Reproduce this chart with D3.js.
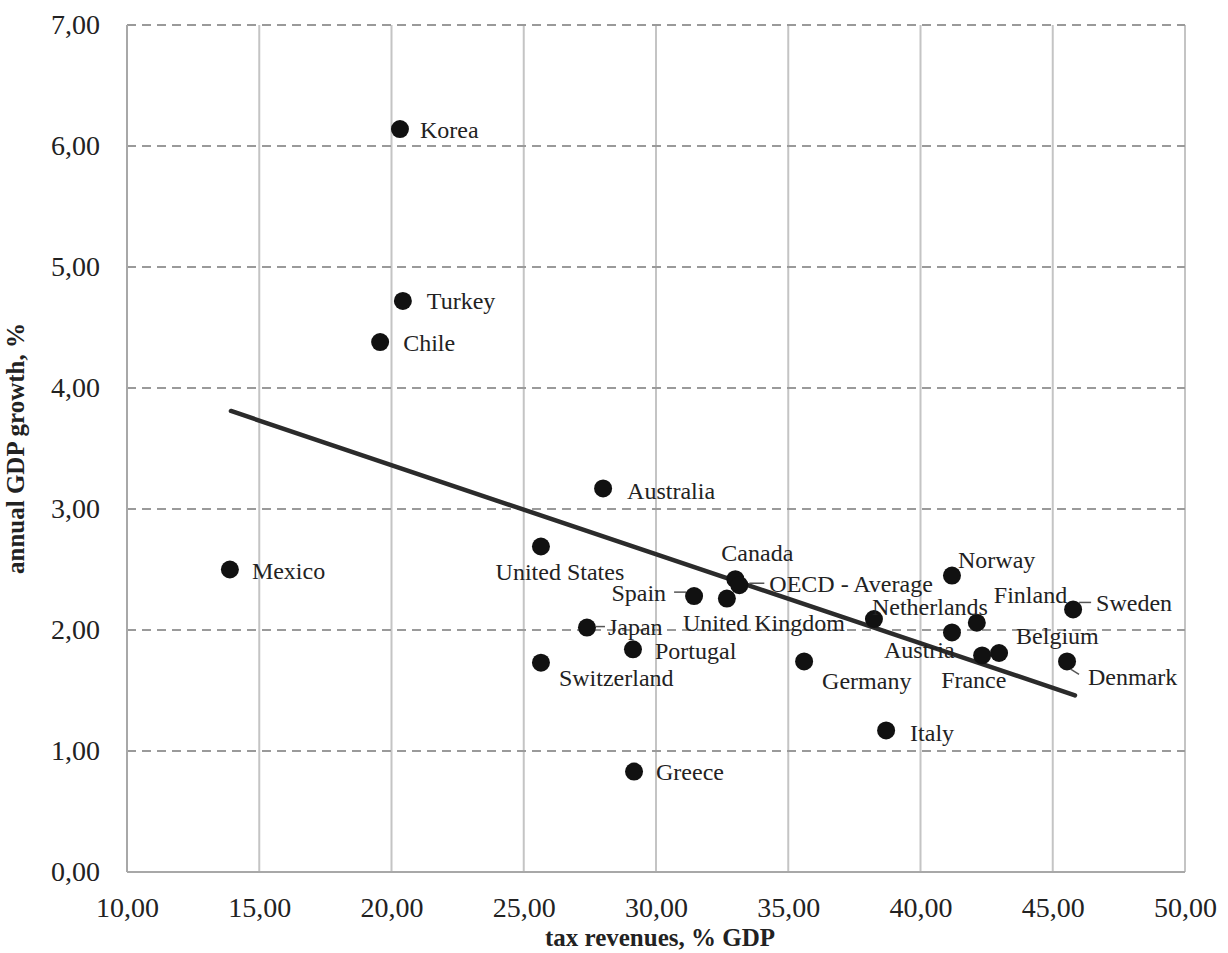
<!DOCTYPE html>
<html>
<head>
<meta charset="utf-8">
<script src="https://cdn.jsdelivr.net/npm/d3@7/dist/d3.min.js"></script>
<style>
  html, body { margin: 0; padding: 0; background: #ffffff; }
  svg { display: block; }
  text { font-family: "Liberation Serif", "Times New Roman", serif; fill: #222; }
</style>
</head>
<body>
<svg id="chart" width="1228" height="953"></svg>
<script>
// ---- data ----
const countries = ["Korea","Turkey","Chile","Mexico","Australia","United States","Spain","Canada","OECD - Average","United Kingdom","Japan","Portugal","Switzerland","Greece","Germany","Italy","Netherlands","Norway","Finland","Sweden","Belgium","Austria","France","Denmark"];
const taxRevenue = [20.32, 20.43, 19.57, 13.89, 28.00, 25.65, 31.44, 33.00, 33.15, 32.68, 27.39, 29.13, 25.65, 29.17, 35.60, 38.70, 38.24, 41.19, 42.13, 45.77, 42.97, 41.19, 42.33, 45.54];
const gdpGrowth  = [6.14, 4.72, 4.38, 2.50, 3.17, 2.69, 2.28, 2.42, 2.37, 2.26, 2.02, 1.84, 1.73, 0.83, 1.74, 1.17, 2.09, 2.45, 2.06, 2.17, 1.81, 1.98, 1.79, 1.74];
const trendX = [13.93, 45.84];
const trendY = [3.81, 1.46];
const xTicks = [10, 15, 20, 25, 30, 35, 40, 45, 50];
const yTicks = [0, 1, 2, 3, 4, 5, 6, 7];
const xTitle = "tax revenues, % GDP";
const yTitle = "annual GDP growth, %";

// ---- label layout (dx, dy to text centre, anchor, optional leader) ----
const labelLayout = {
  "Korea":          {dx: 20, dy: 1, a: "start"},
  "Turkey":         {dx: 24, dy: 0, a: "start"},
  "Chile":          {dx: 23, dy: 1, a: "start"},
  "Mexico":         {dx: 22, dy: 1, a: "start"},
  "Australia":      {dx: 24, dy: 2, a: "start"},
  "United States":  {dx: 19, dy: 25, a: "middle"},
  "Spain":          {dx: -28, dy: -4, a: "end", lead: [-20, -4, -8, -4]},
  "Canada":         {dx: 22, dy: -27, a: "middle"},
  "OECD - Average": {dx: 30, dy: -2, a: "start", lead: [10, -2, 25, -2]},
  "United Kingdom": {dx: -44, dy: 24, a: "start"},
  "Japan":          {dx: 21, dy: -1, a: "start", lead: [9, -1, 18, -1]},
  "Portugal":       {dx: 22, dy: 1, a: "start"},
  "Switzerland":    {dx: 18, dy: 15, a: "start"},
  "Greece":         {dx: 22, dy: 0, a: "start"},
  "Germany":        {dx: 18, dy: 19, a: "start"},
  "Italy":          {dx: 24, dy: 2, a: "start"},
  "Netherlands":    {dx: -2, dy: -13, a: "start"},
  "Norway":         {dx: 6, dy: -16, a: "start"},
  "Finland":        {dx: 17, dy: -28, a: "start"},
  "Sweden":         {dx: 23, dy: -7, a: "start", lead: [6, -7, 18, -7]},
  "Belgium":        {dx: 17, dy: -17, a: "start"},
  "Austria":        {dx: -68, dy: 17, a: "start"},
  "France":         {dx: -41, dy: 24, a: "start"},
  "Denmark":        {dx: 21, dy: 15, a: "start", lead: [4, 8, 12, 13]}
};

// ---- setup ----
const W = 1228, H = 953;
const margin = {top: 25, right: 43, bottom: 81, left: 127};
const FONT = '"Liberation Serif", "Times New Roman", serif';
const svg = d3.select("#chart");
const iw = W - margin.left - margin.right;
const ih = H - margin.top - margin.bottom;
const g = svg.append("g").attr("transform", `translate(${margin.left},${margin.top})`);

const x = d3.scaleLinear().domain([10, 50]).range([0, iw]);
const y = d3.scaleLinear().domain([0, 7]).range([ih, 0]);
const fmt = v => d3.format(".2f")(v).replace(".", ",");

// vertical gridlines (solid)
g.selectAll("line.vgrid").data(xTicks).join("line")
  .attr("class", "vgrid")
  .attr("x1", d => x(d)).attr("x2", d => x(d))
  .attr("y1", 0).attr("y2", ih)
  .attr("stroke", "#c4c4c4").attr("stroke-width", 2);

// horizontal gridlines (dashed)
g.selectAll("line.hgrid").data(yTicks.filter(d => d > 0)).join("line")
  .attr("class", "hgrid")
  .attr("x1", 0).attr("x2", iw)
  .attr("y1", d => y(d)).attr("y2", d => y(d))
  .attr("stroke", "#9a9a9a").attr("stroke-width", 2)
  .attr("stroke-dasharray", "9,6");

// axis lines
g.append("line").attr("x1", 0).attr("x2", iw).attr("y1", ih).attr("y2", ih)
  .attr("stroke", "#a8a8a8").attr("stroke-width", 2);
g.append("line").attr("x1", 0).attr("x2", 0).attr("y1", 0).attr("y2", ih)
  .attr("stroke", "#a8a8a8").attr("stroke-width", 2);

// axes (labels only)
const xAxis = g.append("g").attr("transform", `translate(0,${ih})`)
  .call(d3.axisBottom(x).tickValues(xTicks).tickFormat(fmt).tickSize(0).tickPadding(25));
const yAxis = g.append("g")
  .call(d3.axisLeft(y).tickValues(yTicks).tickFormat(fmt).tickSize(0).tickPadding(27));
[xAxis, yAxis].forEach(ax => {
  ax.attr("font-family", FONT);
  ax.select(".domain").remove();
  ax.selectAll("text").attr("font-family", FONT).style("font-family", FONT)
    .style("font-size", "28px").attr("fill", "#222");
});

// trend line
const trend = trendX.map((v, i) => [v, trendY[i]]);
g.append("path").datum(trend)
  .attr("d", d3.line().x(d => x(d[0])).y(d => y(d[1])))
  .attr("stroke", "#2b2b2b").attr("stroke-width", 4.5).attr("fill", "none")
  .attr("stroke-linecap", "round");

// points
const pts = countries.map((c, i) => ({name: c, tx: taxRevenue[i], gy: gdpGrowth[i]}));
g.selectAll("circle.pt").data(pts).join("circle")
  .attr("class", "pt")
  .attr("cx", d => x(d.tx)).attr("cy", d => y(d.gy)).attr("r", 9)
  .attr("fill", "#111");

// leaders
pts.filter(d => labelLayout[d.name].lead).forEach(d => {
  const L = labelLayout[d.name].lead;
  g.append("line")
    .attr("x1", x(d.tx) + L[0]).attr("y1", y(d.gy) + L[1])
    .attr("x2", x(d.tx) + L[2]).attr("y2", y(d.gy) + L[3])
    .attr("stroke", "#555").attr("stroke-width", 1.5);
});

// labels
g.selectAll("text.lbl").data(pts).join("text")
  .attr("class", "lbl")
  .attr("x", d => x(d.tx) + labelLayout[d.name].dx)
  .attr("y", d => y(d.gy) + labelLayout[d.name].dy)
  .attr("dy", "0.35em")
  .attr("text-anchor", d => labelLayout[d.name].a)
  .attr("font-family", FONT)
  .style("font-size", "24px")
  .text(d => d.name);

// axis titles
svg.append("text")
  .attr("x", margin.left + iw / 2 + 4).attr("y", 946)
  .attr("text-anchor", "middle")
  .attr("font-family", FONT)
  .style("font-size", "25px").style("font-weight", "bold")
  .text(xTitle);
svg.append("text")
  .attr("transform", `translate(24,${margin.top + ih / 2}) rotate(-90)`)
  .attr("text-anchor", "middle")
  .attr("font-family", FONT)
  .style("font-size", "25px").style("font-weight", "bold")
  .text(yTitle);
</script>
</body>
</html>
